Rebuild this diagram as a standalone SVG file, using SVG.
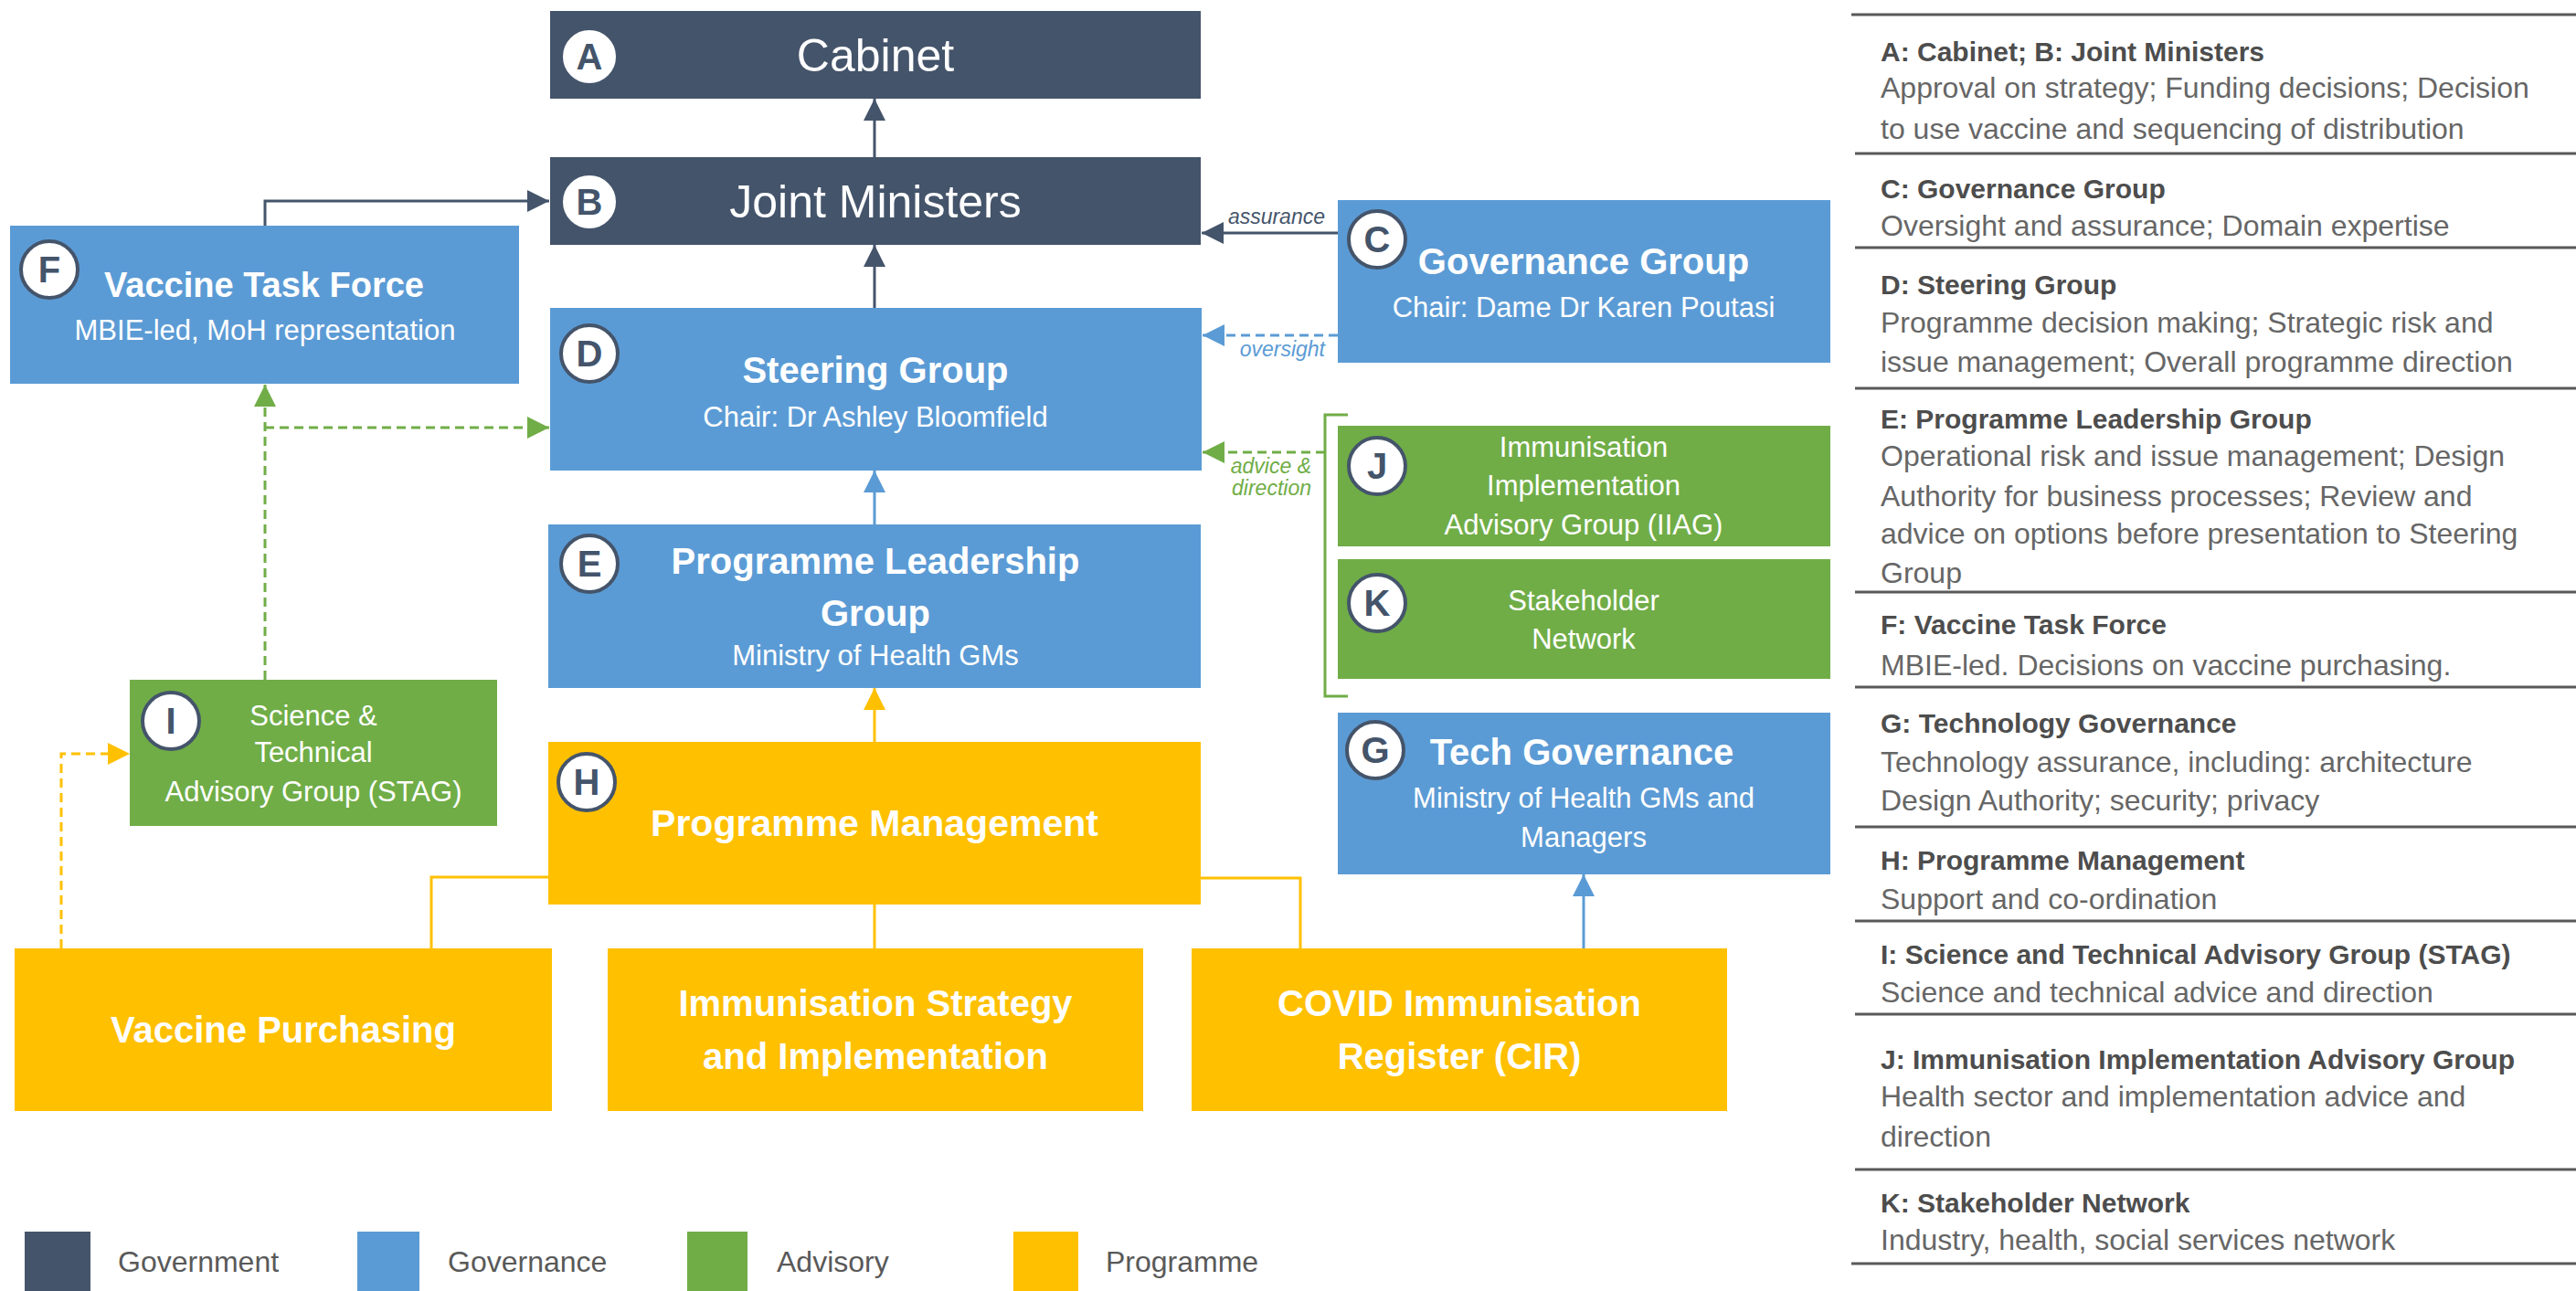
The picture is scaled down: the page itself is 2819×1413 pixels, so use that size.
<svg xmlns="http://www.w3.org/2000/svg" width="2819" height="1413" viewBox="0 0 2819 1413">
<defs>
<style>
.gov{fill:#44546A}.gvn{fill:#5B9BD5}.adv{fill:#70AD47}.prg{fill:#FFC000}
text{font-family:"Liberation Sans",Arial,sans-serif}
.badge circle{fill:#fff;stroke:#44546A;stroke-width:4}
.badge text{font-size:40px;font-weight:bold;fill:#44546A;text-anchor:middle}
.w{fill:#fff;text-anchor:middle}
.big{font-size:50px}
.ttl{font-size:40px;font-weight:bold}
.sub{font-size:31px}
.lbl{font-size:23px;font-style:italic}
.c-dark{stroke:#44546A;stroke-width:3;fill:none}
.c-blue{stroke:#5B9BD5;stroke-width:3;fill:none}
.c-green{stroke:#70AD47;stroke-width:3;fill:none}
.c-yel{stroke:#FFC000;stroke-width:3;fill:none}
.dash{stroke-dasharray:10 6}
.leg{font-size:32px;fill:#595959}
.rh{font-size:30px;font-weight:bold;fill:#4d4d4d}
.rb{font-size:32px;fill:#666666}
.sep{stroke:#595959;stroke-width:3}
</style>
<marker id="m-dark" markerUnits="userSpaceOnUse" markerWidth="24" markerHeight="24" refX="24" refY="12" orient="auto"><path d="M0,0 L24,12 L0,24 z" fill="#44546A"/></marker>
<marker id="m-blue" markerUnits="userSpaceOnUse" markerWidth="24" markerHeight="24" refX="24" refY="12" orient="auto"><path d="M0,0 L24,12 L0,24 z" fill="#5B9BD5"/></marker>
<marker id="m-green" markerUnits="userSpaceOnUse" markerWidth="24" markerHeight="24" refX="24" refY="12" orient="auto"><path d="M0,0 L24,12 L0,24 z" fill="#70AD47"/></marker>
<marker id="m-yel" markerUnits="userSpaceOnUse" markerWidth="24" markerHeight="24" refX="24" refY="12" orient="auto"><path d="M0,0 L24,12 L0,24 z" fill="#FFC000"/></marker>
</defs>
<rect width="2819" height="1413" fill="#fff"/>

<g id="connectors">
<path class="c-dark" d="M957,172 V108" marker-end="url(#m-dark)"/>
<path class="c-dark" d="M957,337 V268" marker-end="url(#m-dark)"/>
<path class="c-dark" d="M290,247 V220 H601" marker-end="url(#m-dark)"/>
<path class="c-dark" d="M1464,255 H1315" marker-end="url(#m-dark)"/>
<text class="lbl" x="1450" y="245" text-anchor="end" fill="#44546A">assurance</text>
<path class="c-blue dash" d="M1464,367 H1316" marker-end="url(#m-blue)"/>
<text class="lbl" x="1450" y="390" text-anchor="end" fill="#5B9BD5">oversight</text>
<path class="c-green dash" d="M290,744 V421" marker-end="url(#m-green)"/>
<path class="c-green dash" d="M290,468 H601" marker-end="url(#m-green)"/>
<path class="c-green dash" d="M1450,495 H1316" marker-end="url(#m-green)"/>
<path class="c-green" d="M1475,454 H1450 V762 H1475"/>
<text class="lbl" x="1435" y="518" text-anchor="end" fill="#70AD47">advice &amp;</text>
<text class="lbl" x="1435" y="542" text-anchor="end" fill="#70AD47">direction</text>
<path class="c-blue" d="M957,574 V515" marker-end="url(#m-blue)"/>
<path class="c-yel" d="M957,812 V753" marker-end="url(#m-yel)"/>
<path class="c-yel" d="M600,960 H472 V1038"/>
<path class="c-yel" d="M957,990 V1038"/>
<path class="c-yel" d="M1314,961 H1423 V1038"/>
<path class="c-yel dash" d="M67,1038 V825 H142" marker-end="url(#m-yel)"/>
<path class="c-blue" d="M1733,1038 V957" marker-end="url(#m-blue)"/>
</g>

<g id="node-A">
<rect class="gov" x="602" y="12" width="712" height="96"/>
<g class="badge"><circle cx="645" cy="62" r="31"/><text x="645" y="76">A</text></g>
<text class="w big" x="958" y="78">Cabinet</text>
</g>
<g id="node-B">
<rect class="gov" x="602" y="172" width="712" height="96"/>
<g class="badge"><circle cx="645" cy="221" r="31"/><text x="645" y="235">B</text></g>
<text class="w big" x="958" y="238">Joint Ministers</text>
</g>
<g id="node-F">
<rect class="gvn" x="11" y="247" width="557" height="173"/>
<g class="badge"><circle cx="54" cy="295" r="31"/><text x="54" y="309">F</text></g>
<text class="w ttl" x="289" y="325" style="font-size:38px">Vaccine Task Force</text>
<text class="w sub" x="290" y="372">MBIE-led, MoH representation</text>
</g>
<g id="node-C">
<rect class="gvn" x="1464" y="219" width="539" height="178"/>
<g class="badge"><circle cx="1507" cy="262" r="31"/><text x="1507" y="276">C</text></g>
<text class="w ttl" x="1733" y="300">Governance Group</text>
<text class="w sub" x="1733" y="347">Chair: Dame Dr Karen Poutasi</text>
</g>
<g id="node-D">
<rect class="gvn" x="602" y="337" width="713" height="178"/>
<g class="badge"><circle cx="645" cy="387" r="31"/><text x="645" y="401">D</text></g>
<text class="w ttl" x="958" y="419">Steering Group</text>
<text class="w sub" x="958" y="467">Chair: Dr Ashley Bloomfield</text>
</g>
<g id="node-E">
<rect class="gvn" x="600" y="574" width="714" height="179"/>
<g class="badge"><circle cx="645" cy="617" r="31"/><text x="645" y="631">E</text></g>
<text class="w ttl" x="958" y="628">Programme Leadership</text>
<text class="w ttl" x="958" y="685">Group</text>
<text class="w sub" x="958" y="728">Ministry of Health GMs</text>
</g>
<g id="node-H">
<rect class="prg" x="600" y="812" width="714" height="178"/>
<g class="badge"><circle cx="642" cy="856" r="31"/><text x="642" y="870">H</text></g>
<text class="w ttl" x="957" y="915" style="font-size:41px">Programme Management</text>
</g>
<g id="node-I">
<rect class="adv" x="142" y="744" width="402" height="160"/>
<g class="badge"><circle cx="187" cy="789" r="31"/><text x="187" y="803">I</text></g>
<text class="w sub" x="343" y="794">Science &amp;</text>
<text class="w sub" x="343" y="834">Technical</text>
<text class="w sub" x="343" y="877">Advisory Group (STAG)</text>
</g>
<g id="node-J">
<rect class="adv" x="1464" y="466" width="539" height="132"/>
<g class="badge"><circle cx="1507" cy="510" r="31"/><text x="1507" y="524">J</text></g>
<text class="w sub" x="1733" y="500">Immunisation</text>
<text class="w sub" x="1733" y="542">Implementation</text>
<text class="w sub" x="1733" y="585">Advisory Group (IIAG)</text>
</g>
<g id="node-K">
<rect class="adv" x="1464" y="612" width="539" height="131"/>
<g class="badge"><circle cx="1507" cy="660" r="31"/><text x="1507" y="674">K</text></g>
<text class="w sub" x="1733" y="668">Stakeholder</text>
<text class="w sub" x="1733" y="710">Network</text>
</g>
<g id="node-G">
<rect class="gvn" x="1464" y="780" width="539" height="177"/>
<g class="badge"><circle cx="1505" cy="821" r="31"/><text x="1505" y="835">G</text></g>
<text class="w ttl" x="1731" y="837">Tech Governance</text>
<text class="w sub" x="1733" y="884">Ministry of Health GMs and</text>
<text class="w sub" x="1733" y="927">Managers</text>
</g>
<g id="node-VP">
<rect class="prg" x="16" y="1038" width="588" height="178"/>
<text class="w ttl" x="310" y="1141">Vaccine Purchasing</text>
</g>
<g id="node-IS">
<rect class="prg" x="665" y="1038" width="586" height="178"/>
<text class="w ttl" x="958" y="1112">Immunisation Strategy</text>
<text class="w ttl" x="958" y="1170">and Implementation</text>
</g>
<g id="node-CIR">
<rect class="prg" x="1304" y="1038" width="586" height="178"/>
<text class="w ttl" x="1597" y="1112">COVID Immunisation</text>
<text class="w ttl" x="1597" y="1170">Register (CIR)</text>
</g>

<g id="legend">
<rect class="gov" x="27" y="1348" width="72" height="65"/>
<text class="leg" x="129" y="1392">Government</text>
<rect class="gvn" x="391" y="1348" width="68" height="65"/>
<text class="leg" x="490" y="1392">Governance</text>
<rect class="adv" x="752" y="1348" width="66" height="65"/>
<text class="leg" x="850" y="1392">Advisory</text>
<rect class="prg" x="1109" y="1348" width="71" height="65"/>
<text class="leg" x="1210" y="1392">Programme</text>
</g>

<g id="key-table">
<line class="sep" x1="2026" y1="16" x2="2819" y2="16"/>
<text class="rh" x="2058" y="67">A: Cabinet; B: Joint Ministers</text>
<text class="rb" x="2058" y="107">Approval on strategy; Funding decisions; Decision</text>
<text class="rb" x="2058" y="152">to use vaccine and sequencing of distribution</text>
<line class="sep" x1="2030" y1="168" x2="2819" y2="168"/>
<text class="rh" x="2058" y="217">C: Governance Group</text>
<text class="rb" x="2058" y="258">Oversight and assurance; Domain expertise</text>
<line class="sep" x1="2030" y1="271" x2="2819" y2="271"/>
<text class="rh" x="2058" y="322">D: Steering Group</text>
<text class="rb" x="2058" y="364">Programme decision making; Strategic risk and</text>
<text class="rb" x="2058" y="407">issue management; Overall programme direction</text>
<line class="sep" x1="2030" y1="425" x2="2819" y2="425"/>
<text class="rh" x="2058" y="469">E: Programme Leadership Group</text>
<text class="rb" x="2058" y="510">Operational risk and issue management; Design</text>
<text class="rb" x="2058" y="554">Authority for business processes; Review and</text>
<text class="rb" x="2058" y="595">advice on options before presentation to Steering</text>
<text class="rb" x="2058" y="638">Group</text>
<line class="sep" x1="2030" y1="648" x2="2819" y2="648"/>
<text class="rh" x="2058" y="694">F: Vaccine Task Force</text>
<text class="rb" x="2058" y="739">MBIE-led. Decisions on vaccine purchasing.</text>
<line class="sep" x1="2030" y1="752" x2="2819" y2="752"/>
<text class="rh" x="2058" y="802">G: Technology Governance</text>
<text class="rb" x="2058" y="845">Technology assurance, including: architecture</text>
<text class="rb" x="2058" y="887">Design Authority; security; privacy</text>
<line class="sep" x1="2030" y1="905" x2="2819" y2="905"/>
<text class="rh" x="2058" y="952">H: Programme Management</text>
<text class="rb" x="2058" y="995">Support and co-ordination</text>
<line class="sep" x1="2030" y1="1008" x2="2819" y2="1008"/>
<text class="rh" x="2058" y="1055">I: Science and Technical Advisory Group (STAG)</text>
<text class="rb" x="2058" y="1097">Science and technical advice and direction</text>
<line class="sep" x1="2030" y1="1110" x2="2819" y2="1110"/>
<text class="rh" x="2058" y="1170">J: Immunisation Implementation Advisory Group</text>
<text class="rb" x="2058" y="1211">Health sector and implementation advice and</text>
<text class="rb" x="2058" y="1255">direction</text>
<line class="sep" x1="2030" y1="1280" x2="2819" y2="1280"/>
<text class="rh" x="2058" y="1327">K: Stakeholder Network</text>
<text class="rb" x="2058" y="1368">Industry, health, social services network</text>
<line class="sep" x1="2026" y1="1383" x2="2819" y2="1383"/>
</g>
</svg>
